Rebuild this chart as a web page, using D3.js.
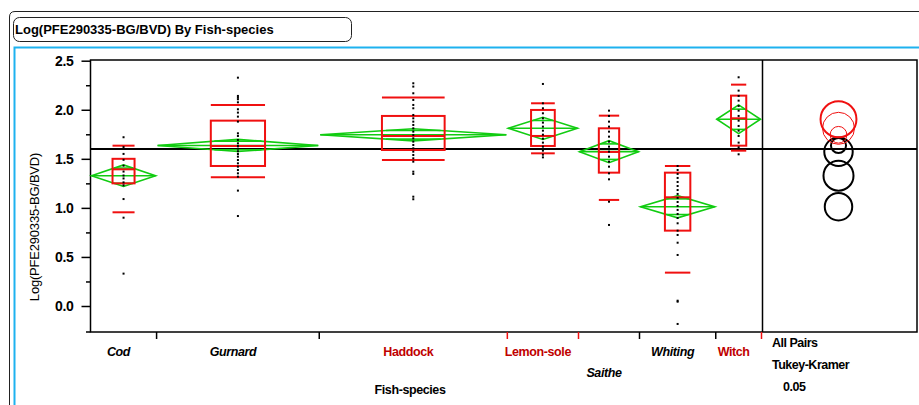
<!DOCTYPE html>
<html>
<head>
<meta charset="utf-8">
<script src="https://cdn.jsdelivr.net/npm/d3@7/dist/d3.min.js"></script>
<style>
    body { margin: 0; background: #fff; }
    text { font-family: "Liberation Sans", Arial, sans-serif; }
</style>
</head>
<body>
<svg id="chart" width="919" height="405"></svg>
<script>
// ---- data ----
const species = ["Cod", "Gurnard", "Haddock", "Lemon-sole", "Saithe", "Whiting", "Witch"];
const groupN = [13, 32, 37, 14, 12, 15, 9];
// groups not significantly different from the selected one (Witch)
const sameAsSelected = [false, false, true, true, false, false, true];
const selected = "Witch";

const means = [1.328, 1.636, 1.745, 1.811, 1.573, 1.012, 1.903];
const ciHalf = [0.110, 0.062, 0.062, 0.113, 0.112, 0.113, 0.146];
const q10 = [0.955, 1.312, 1.488, 1.556, 1.081, 0.340, 1.583];
const q25 = [1.250, 1.427, 1.590, 1.631, 1.359, 0.768, 1.634];
const median = [1.393, 1.631, 1.733, 1.733, 1.570, 1.108, 1.913];
const q75 = [1.500, 1.889, 1.937, 1.998, 1.811, 1.359, 2.144];
const q90 = [1.634, 2.049, 2.124, 2.066, 1.940, 1.427, 2.256];
const circleRadius = [0.153, 0.077, 0.085, 0.163, 0.145, 0.140, 0.183];
const grandMean = 1.60;

const codPts = [1.72, 1.62, 1.55, 1.49, 1.43, 1.37, 1.33, 1.30, 1.26, 1.23, 1.09, 0.90, 0.33];
const gurnardPts = [2.327, 2.141, 2.124, 2.107, 2.076, 2.005, 1.971, 1.930, 1.879, 1.760, 1.733,
    1.692, 1.658, 1.631, 1.604, 1.577, 1.549, 1.522, 1.488, 1.454, 1.420, 1.386, 1.352, 1.318,
    1.176, 0.917];
const haddockPts = [2.270, 2.236, 2.168, 2.100, 2.049, 2.015, 1.947, 1.913, 1.879, 1.845, 1.811,
    1.777, 1.743, 1.709, 1.675, 1.641, 1.607, 1.573, 1.539, 1.505, 1.471, 1.369, 1.346, 1.114, 1.088];
const lemonPts = [2.263, 2.066, 2.015, 1.964, 1.913, 1.869, 1.828, 1.787, 1.746, 1.706, 1.665,
    1.624, 1.583, 1.542, 1.515];
const saithePts = [1.991, 1.937, 1.879, 1.828, 1.777, 1.726, 1.675, 1.624, 1.573, 1.522, 1.471,
    1.420, 1.352, 1.291, 1.063, 0.826];
const whitingPts = [1.427, 1.386, 1.346, 1.305, 1.264, 1.223, 1.182, 1.142, 1.101, 1.060, 1.019,
    0.979, 0.938, 0.897, 0.843, 0.768, 0.724, 0.645, 0.520, 0.054, 0.044, -0.183];
const witchPts = [2.331, 2.195, 2.141, 2.093, 2.039, 1.991, 1.937, 1.889, 1.835, 1.787, 1.733,
    1.665, 1.617, 1.546];
const points = [codPts, gurnardPts, haddockPts, lemonPts, saithePts, whitingPts, witchPts];

const yTicks = [0, 0.5, 1.0, 1.5, 2.0, 2.5];
const yMinorTicks = [0.25, 0.75, 1.25, 1.75, 2.25];

// ---- layout ----
const plotLeft = 90.5, plotRight = 917, plotTop = 60, plotBottom = 332;
const groupsRight = 761.5;
const red = "#f01010", darkRed = "#c00000", green = "#11cc11";

const svg = d3.select("#chart");

// outer frames
svg.append("path")
    .attr("d", "M9.5,405 L9.5,17 Q9.5,11.5 15,11.5 L919,11.5")
    .attr("fill", "none").attr("stroke", "#222").attr("stroke-width", 1);
svg.append("rect")
    .attr("x", 13.5).attr("y", 17.5).attr("width", 338).attr("height", 24).attr("rx", 6)
    .attr("fill", "none").attr("stroke", "#222").attr("stroke-width", 1);
svg.append("text")
    .attr("x", 15).attr("y", 34)
    .attr("font-size", 13).attr("font-weight", "bold").attr("letter-spacing", 0)
    .text("Log(PFE290335-BG/BVD) By Fish-species");
svg.append("path")
    .attr("d", "M14.5,405 L14.5,47.5 L919,47.5")
    .attr("fill", "none").attr("stroke", "#1eb2ef").attr("stroke-width", 2);

// scales
const yScale = d3.scaleLinear()
    .domain([0, 2.5])
    .range([306, 60.7]);

const cum = [0];
groupN.forEach((n) => cum.push(cum[cum.length - 1] + n));
const xScale = d3.scaleLinear()
    .domain([0, d3.sum(groupN)])
    .range([plotLeft, groupsRight]);

const groups = species.map((s, i) => {
    const x0 = xScale(cum[i]);
    const x1 = xScale(cum[i + 1]);
    return { name: s, i: i, x0: x0, x1: x1, cx: (x0 + x1) / 2, w: x1 - x0 };
});

// y axis
const yAxis = d3.axisLeft(yScale)
    .tickValues(yTicks)
    .tickFormat(d3.format(".1f"))
    .tickSize(9)
    .tickPadding(8);
const gy = svg.append("g")
    .attr("transform", `translate(${plotLeft}, 0)`)
    .call(yAxis);
gy.select(".domain").remove();
gy.selectAll("line").attr("stroke-width", 1.5);
gy.selectAll("text")
    .attr("font-family", "Liberation Sans, Arial, sans-serif")
    .attr("font-size", 14).attr("font-weight", "bold").attr("letter-spacing", -0.3)
    .attr("fill", "#000");

const gyMinor = svg.append("g")
    .attr("transform", `translate(${plotLeft}, 0)`)
    .call(d3.axisLeft(yScale).tickValues(yMinorTicks).tickSize(4.5).tickFormat(""));
gyMinor.select(".domain").remove();
gyMinor.selectAll("line").attr("stroke-width", 1.5);

svg.append("text")
    .attr("transform", `translate(39, 227) rotate(-90)`)
    .attr("text-anchor", "middle")
    .attr("font-size", 13).attr("letter-spacing", -0.2)
    .text("Log(PFE290335-BG/BVD)");

// plot frame
svg.append("rect")
    .attr("x", plotLeft).attr("y", plotTop)
    .attr("width", plotRight - plotLeft).attr("height", plotBottom - plotTop)
    .attr("fill", "none").attr("stroke", "#000").attr("stroke-width", 1.5);
svg.append("line")
    .attr("x1", 86).attr("x2", plotLeft).attr("y1", plotBottom).attr("y2", plotBottom)
    .attr("stroke", "#000").attr("stroke-width", 1.5);
svg.append("line")
    .attr("x1", groupsRight + 1).attr("x2", groupsRight + 1)
    .attr("y1", plotTop).attr("y2", plotBottom)
    .attr("stroke", "#000").attr("stroke-width", 1.5);

// x ticks at group boundaries
svg.append("g")
    .selectAll("line")
    .data(groups)
    .enter()
    .append("line")
    .attr("x1", (d) => d.x1).attr("x2", (d) => d.x1)
    .attr("y1", plotBottom).attr("y2", plotBottom + 7)
    .attr("stroke", (d) => sameAsSelected[d.i] ? red : "#000")
    .attr("stroke-width", 1.5);

// x labels
svg.append("g")
    .selectAll("text")
    .data(groups)
    .enter()
    .append("text")
    .attr("x", (d) => d.cx - 5)
    .attr("y", (d) => d.name === "Saithe" ? 377 : 356)
    .attr("text-anchor", "middle")
    .attr("font-size", 12.5).attr("font-weight", "bold").attr("letter-spacing", -0.4)
    .attr("font-style", (d) => sameAsSelected[d.i] ? "normal" : "italic")
    .attr("fill", (d) => sameAsSelected[d.i] ? darkRed : "#000")
    .text((d) => d.name);

svg.append("text")
    .attr("x", 410).attr("y", 394)
    .attr("text-anchor", "middle")
    .attr("font-size", 12.5).attr("font-weight", "bold").attr("letter-spacing", -0.4)
    .text("Fish-species");

// grand mean line
svg.append("line")
    .attr("x1", plotLeft).attr("x2", plotRight)
    .attr("y1", yScale(grandMean)).attr("y2", yScale(grandMean))
    .attr("stroke", "#000").attr("stroke-width", 1.8);

// mean diamonds
const gd = svg.append("g").attr("fill", "none").attr("stroke", green).attr("stroke-width", 1.6);
groups.forEach((g) => {
    const m = means[g.i], c = ciHalf[g.i];
    const l = g.x0 + 1, r = g.x1 - 1, hw = (r - l) / 2;
    gd.append("path")
        .attr("d", `M${l},${yScale(m)} L${g.cx},${yScale(m + c)} L${r},${yScale(m)} L${g.cx},${yScale(m - c)} Z`);
    gd.append("line")
        .attr("x1", l).attr("x2", r).attr("y1", yScale(m)).attr("y2", yScale(m));
    // overlap marks
    const o = c / Math.SQRT2;
    const ow = hw * (1 - 1 / Math.SQRT2);
    [m + o, m - o].forEach((v) => {
        gd.append("line")
            .attr("x1", g.cx - ow).attr("x2", g.cx + ow)
            .attr("y1", yScale(v)).attr("y2", yScale(v));
    });
});

// quantile boxes
const gb = svg.append("g").attr("fill", "none").attr("stroke", red).attr("stroke-width", 2);
groups.forEach((g) => {
    const bw = g.w / 3;
    gb.append("rect")
        .attr("x", g.cx - bw / 2).attr("y", yScale(q75[g.i]))
        .attr("width", bw).attr("height", yScale(q25[g.i]) - yScale(q75[g.i]));
    [median[g.i], q10[g.i], q90[g.i]].forEach((v) => {
        gb.append("line")
            .attr("x1", g.cx - bw / 2).attr("x2", g.cx + bw / 2)
            .attr("y1", yScale(v)).attr("y2", yScale(v));
    });
});

// data points
groups.forEach((g) => {
    svg.append("g")
        .selectAll("rect")
        .data(points[g.i])
        .enter()
        .append("rect")
        .attr("x", g.cx - 1)
        .attr("y", (d) => yScale(d) - 1)
        .attr("width", 2).attr("height", 2)
        .attr("fill", "#000");
});

// comparison circles
const circleX = 838.5;
const order = d3.range(species.length).sort((a, b) => means[a] - means[b]);
svg.append("g")
    .selectAll("circle")
    .data(order)
    .enter()
    .append("circle")
    .attr("cx", circleX)
    .attr("cy", (i) => yScale(means[i]))
    .attr("r", (i) => yScale(0) - yScale(circleRadius[i]))
    .attr("fill", "none")
    .attr("stroke", (i) => sameAsSelected[i] ? red : "#000")
    .attr("stroke-width", (i) => (!sameAsSelected[i] || species[i] === selected) ? 2 : 1);

// comparison legend text
const legend = [["All Pairs", 772, 347], ["Tukey-Kramer", 772, 369], ["0.05", 783, 391]];
svg.append("g")
    .selectAll("text")
    .data(legend)
    .enter()
    .append("text")
    .attr("x", (d) => d[1]).attr("y", (d) => d[2])
    .attr("font-size", 12.5).attr("font-weight", "bold").attr("letter-spacing", -0.5)
    .text((d) => d[0]);
</script>
</body>
</html>
